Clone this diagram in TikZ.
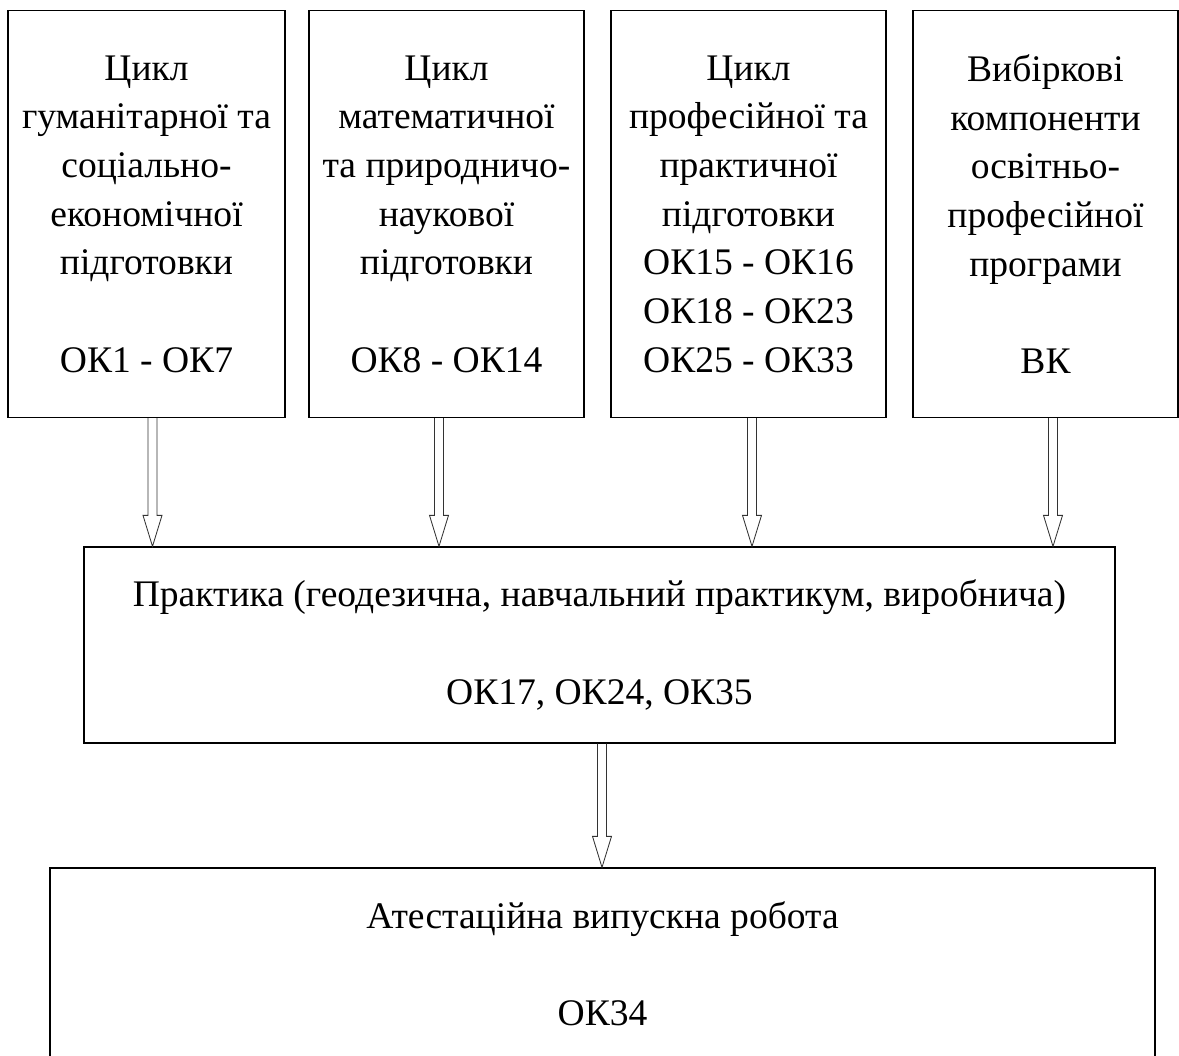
\documentclass[tikz,border=0pt]{standalone}
\usepackage{fontspec}
\setmainfont{Liberation Serif}
\usetikzlibrary{calc}

% hollow block arrow straight down from node #1 to node #2, shifted by #3
\newcommand{\hollowdown}[3]{%
  \draw[hollow] ($(#1.south)+(#3-4.5,0)$) -- ($(#2.north -| #1.south)+(#3-4.5,-31)$)
    -- ($(#2.north -| #1.south)+(#3-9.5,-31)$) -- ($(#2.north -| #1.south)+(#3,0)$)
    -- ($(#2.north -| #1.south)+(#3+9.5,-31)$) -- ($(#2.north -| #1.south)+(#3+4.5,-31)$)
    -- ($(#1.south)+(#3+4.5,0)$);
}

\begin{document}
\begin{tikzpicture}[x=0.025cm,y=-0.025cm,
    box/.style={draw, line width=0.9pt, inner sep=0pt, align=center,
      font=\fontsize{26.7}{34.6}\selectfont},
    hollow/.style={draw=black!80, line width=0.6pt, line join=miter}]
  \useasboundingbox (0,0) rectangle (1179,1056);

  % Upper row of cycles
  \node[box, minimum width=277*0.025cm, minimum height=407*0.025cm] (b1) at (146.5,214)
    {Цикл\\гуманітарної та\\соціально-\\економічної\\підготовки\\[34.6pt]ОК1 - ОК7};
  \node[box, minimum width=275*0.025cm, minimum height=407*0.025cm] (b2) at (446.5,214)
    {Цикл\\математичної\\та природничо-\\наукової\\підготовки\\[34.6pt]ОК8 - ОК14};
  \node[box, minimum width=275*0.025cm, minimum height=407*0.025cm] (b3) at (748.5,214)
    {Цикл\\професійної та\\практичної\\підготовки\\ОК15 - ОК16\\ОК18 - ОК23\\ОК25 - ОК33};
  \node[box, minimum width=265*0.025cm, minimum height=407*0.025cm] (b4) at (1045.5,214)
    {Вибіркові\\компоненти\\освітньо-\\професійної\\програми\\[34.6pt]ВК};

  % Practice
  \node[box, minimum width=1031*0.025cm, minimum height=196*0.025cm] (mid) at (599.5,645)
    {Практика (геодезична, навчальний практикум, виробнича)\\[34.6pt]ОК17, ОК24, ОК35};

  % Final work
  \node[box, minimum width=1105*0.025cm, minimum height=192*0.025cm] (fin) at (602.5,964)
    {Атестаційна випускна робота\\[34.6pt]ОК34};

  % Arrows
  \hollowdown{b1}{mid}{6}
  \hollowdown{b2}{mid}{-7.5}
  \hollowdown{b3}{mid}{3.5}
  \hollowdown{b4}{mid}{7.5}
  \hollowdown{mid}{fin}{2.5}
\end{tikzpicture}
\end{document}
